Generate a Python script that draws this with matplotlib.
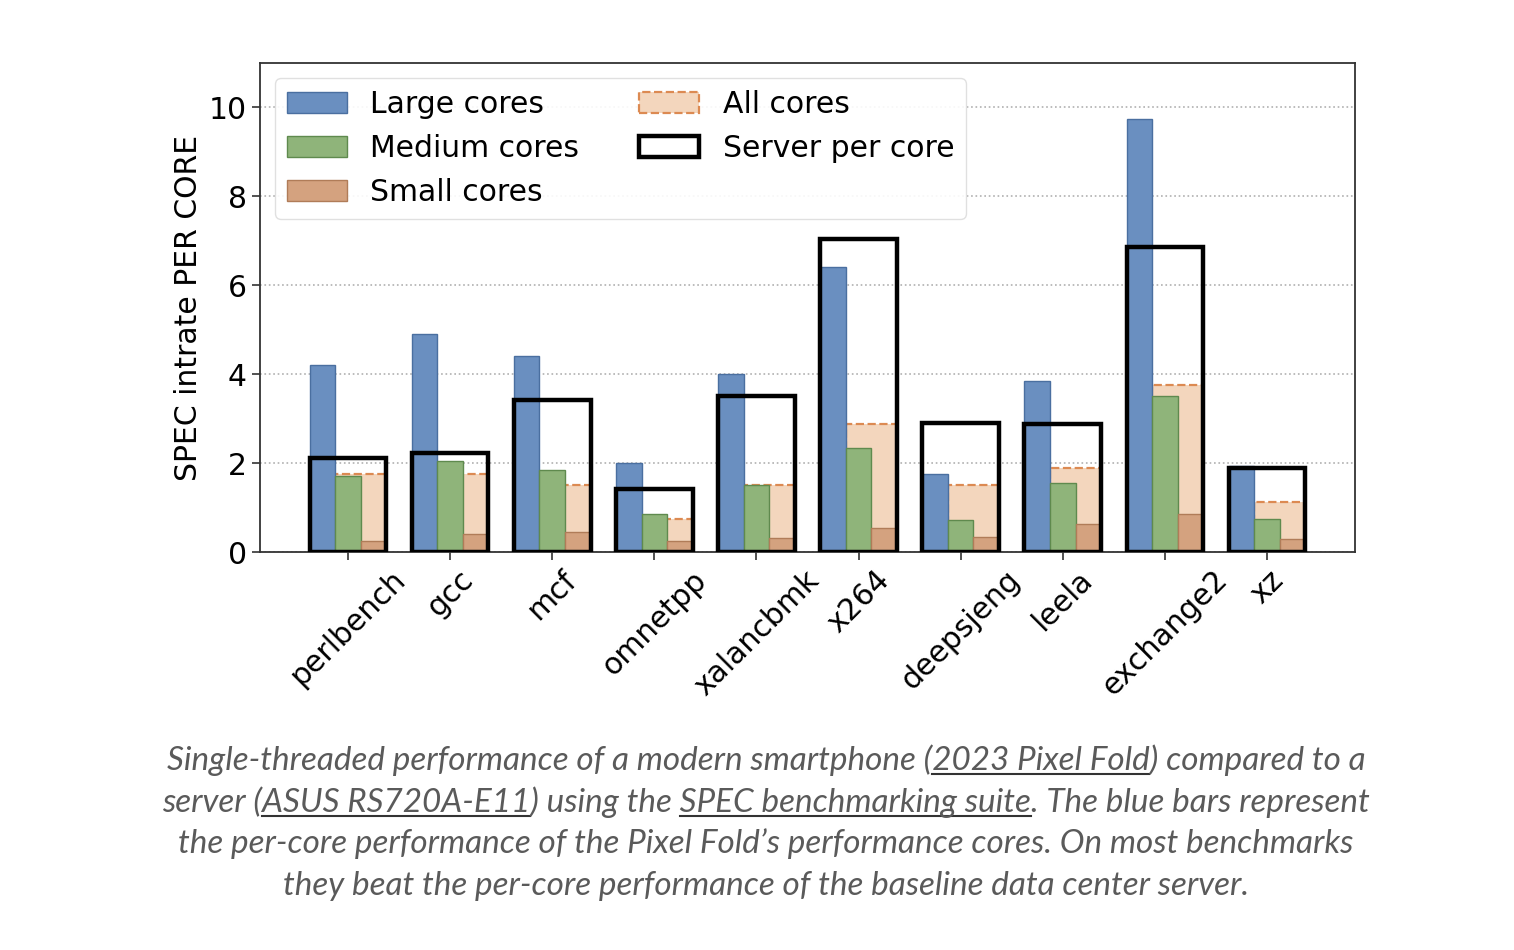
import matplotlib
matplotlib.use("Agg")
import matplotlib.pyplot as plt
from matplotlib.patches import Patch
import numpy as np

categories = ["perlbench", "gcc", "mcf", "omnetpp", "xalancbmk", "x264",
              "deepsjeng", "leela", "exchange2", "xz"]
large_cores = [4.21, 4.91, 4.41, 2.00, 4.01, 6.40, 1.76, 3.85, 9.75, 1.94]
medium_cores = [1.70, 2.05, 1.85, 0.86, 1.50, 2.35, 0.71, 1.55, 3.50, 0.74]
small_cores = [0.25, 0.40, 0.45, 0.25, 0.31, 0.53, 0.33, 0.63, 0.86, 0.29]
all_cores = [1.76, 1.76, 1.51, 0.75, 1.50, 2.88, 1.50, 1.88, 3.76, 1.12]
server_per_core = [2.12, 2.22, 3.42, 1.41, 3.51, 7.03, 2.91, 2.89, 6.85, 1.90]

y_ticks = [0, 2, 4, 6, 8, 10]
y_label = "SPEC intrate PER CORE"

caption_lines = [
    [("Single-threaded performance of a modern smartphone (", False),
     ("2023 Pixel Fold", True), (") compared to a", False)],
    [("server (", False), ("ASUS RS720A-E11", True), (") using the ", False),
     ("SPEC benchmarking suite", True), (". The blue bars represent", False)],
    [("the per-core performance of the Pixel Fold\u2019s performance cores. On most benchmarks", False)],
    [("they beat the per-core performance of the baseline data center server.", False)],
]

c_large, e_large = "#6a8fc0", "#4a6fa0"
c_med, e_med = "#8fb47a", "#5f8a4e"
c_small, e_small = "#d4a27f", "#b07c58"
c_all, e_all = "#f3d6bd", "#dc8a52"

plt.rcParams['font.family'] = ['DejaVu Sans']
fig = plt.figure(figsize=(15.14, 9.5), dpi=100)
ax = fig.add_axes([260/1514, 1-552/950, (1355-260)/1514, (552-63)/950])

x = np.arange(len(categories))
w = 0.25

ax.bar(x + w / 2, all_cores, 2 * w, color=c_all, edgecolor=e_all, linestyle='--',
       linewidth=1.6, zorder=2, label="All cores")
ax.bar(x - w, large_cores, w, color=c_large, edgecolor=e_large, linewidth=1.0,
       zorder=3, label="Large cores")
ax.bar(x, medium_cores, w, color=c_med, edgecolor=e_med, linewidth=1.0,
       zorder=3, label="Medium cores")
ax.bar(x + w, small_cores, w, color=c_small, edgecolor=e_small, linewidth=1.0,
       zorder=3, label="Small cores")
ax.bar(x, server_per_core, 3 * w, fill=False, edgecolor='black', linewidth=3.2,
       zorder=4, label="Server per core")

ax.set_ylim(0, 11.0)
ax.set_yticks(y_ticks)
ax.set_xticks(x)
ax.set_xticklabels(categories, rotation=45, ha='center', fontsize=21.5)
ax.tick_params(axis='y', labelsize=21.5, length=6, width=1.2, color='#333333')
ax.tick_params(axis='x', length=6, width=1.2, color='#333333')
ax.set_ylabel(y_label, fontsize=21.5)
ax.yaxis.grid(True, linestyle=':', color='#b0b0b0', linewidth=1.2)
ax.set_axisbelow(True)
for s in ax.spines.values():
    s.set_color('#333333')
    s.set_linewidth(1.3)

handles = [
    Patch(facecolor=c_large, edgecolor=e_large, label="Large cores"),
    Patch(facecolor=c_med, edgecolor=e_med, label="Medium cores"),
    Patch(facecolor=c_small, edgecolor=e_small, label="Small cores"),
    Patch(facecolor=c_all, edgecolor=e_all, linestyle='--', linewidth=1.6, label="All cores"),
    Patch(facecolor='white', edgecolor='black', linewidth=3.2, label="Server per core"),
]
leg = ax.legend(handles=handles, ncol=2, loc='upper left', fontsize=21.5,
                frameon=True, framealpha=0.9, edgecolor='#dddddd',
                labelspacing=0.5, columnspacing=2.0)

# Caption with underlined link segments
fig.canvas.draw()
renderer = fig.canvas.get_renderer()
cap_family = ['Lato', 'DejaVu Sans']
cap_color = '#5a5a5a'
target_width = 1197.0

def text_width(s, size):
    t = fig.text(0, 0, s, fontsize=size, style='italic', family=cap_family)
    wpx = t.get_window_extent(renderer).width
    t.remove()
    return wpx

line0 = "".join(s for s, _ in caption_lines[0])
base = 20.0
cap_size = base * target_width / text_width(line0, base)

center_x = 766
line_y = [760, 802, 844, 886]
for segs, yp in zip(caption_lines, line_y):
    full = "".join(s for s, _ in segs)
    fw = text_width(full, cap_size)
    left = center_x - fw / 2
    fig.text(left / 1514, 1 - yp / 950, full, fontsize=cap_size, style='italic',
             family=cap_family, color=cap_color, ha='left', va='center')
    prefix = ""
    for s, ul in segs:
        if ul:
            end = text_width(prefix + s, cap_size)
            start = end - text_width(s, cap_size)
            yy = 1 - (yp + 14) / 950
            fig.add_artist(plt.Line2D([(left + start) / 1514, (left + end) / 1514],
                                      [yy, yy], color='#333333', linewidth=1.5,
                                      transform=fig.transFigure))
        prefix += s

fig.savefig("out.png", dpi=100)
